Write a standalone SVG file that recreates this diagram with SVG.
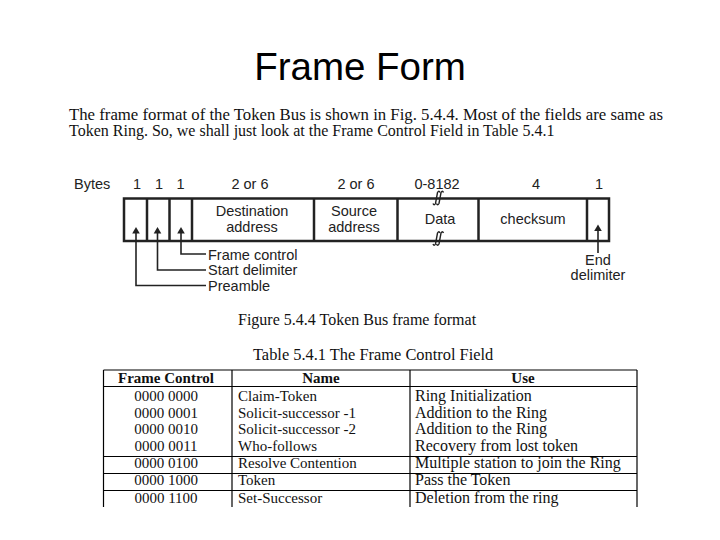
<svg xmlns="http://www.w3.org/2000/svg" width="720" height="540" viewBox="0 0 720 540">
<style>
.title{font-family:"Liberation Sans",Arial,sans-serif;font-size:38.5px;fill:#000}
.para{font-family:"Liberation Serif","Times New Roman",serif;font-size:16px;fill:#111}
.dg{font-family:"Liberation Sans",Arial,sans-serif;font-size:14.5px;fill:#222}
.mid{text-anchor:middle}
.box{fill:none;stroke:#222;stroke-width:2.5}
.div{stroke:#222;stroke-width:2.5}
.ln{fill:none;stroke:#222;stroke-width:1.6}
.ah{fill:#222}
.brk{fill:none;stroke:#222;stroke-width:1.4}
.cap{font-family:"Liberation Serif","Times New Roman",serif;font-size:16px;fill:#111}
.tb{font-family:"Liberation Serif","Times New Roman",serif;font-size:15px;fill:#111}
.tu{font-family:"Liberation Serif","Times New Roman",serif;font-size:16px;fill:#111}
.th{font-weight:bold}
.tl{stroke:#000;stroke-width:1.2}
</style>
<defs>
<g id="brkmark">
<path class="brk" d="M-4.5,5.5 Q-3.5,8 -2,5.5 L0,-5.5 Q1.5,-8 2.5,-5.5"/>
<path class="brk" d="M-1,5.5 Q0,8 1.5,5.5 L3.5,-5.5 Q5,-8 6,-5.5"/>
</g>
<path id="uparrow" class="ah" d="M0,0 L3.8,6.5 L-3.8,6.5 Z"/>
</defs>
<rect width="720" height="540" fill="#fff"/>

<g id="title"><text class="title mid" x="360" y="80">Frame Form</text></g>

<g id="intro">
<text class="para" x="69" y="120" textLength="594" lengthAdjust="spacingAndGlyphs">The frame format of the Token Bus is shown in Fig. 5.4.4. Most of the fields are same as</text>
<text class="para" x="69" y="136">Token Ring. So, we shall just look at the Frame Control Field in Table 5.4.1</text>
</g>

<g id="bytes-row">
<text class="dg" x="74" y="189">Bytes</text>
<text class="dg mid" x="137" y="189">1</text>
<text class="dg mid" x="159" y="189">1</text>
<text class="dg mid" x="180.5" y="189">1</text>
<text class="dg mid" x="250" y="189">2 or 6</text>
<text class="dg mid" x="356" y="189">2 or 6</text>
<text class="dg mid" x="437" y="189">0-8182</text>
<text class="dg mid" x="536" y="189">4</text>
<text class="dg mid" x="599" y="189">1</text>
</g>

<g id="frame">
<rect class="box" x="124" y="198.5" width="485" height="42.5"/>
<line class="div" x1="147" y1="198.5" x2="147" y2="241"/>
<line class="div" x1="169.5" y1="198.5" x2="169.5" y2="241"/>
<line class="div" x1="192" y1="198.5" x2="192" y2="241"/>
<line class="div" x1="314" y1="198.5" x2="314" y2="241"/>
<line class="div" x1="397.5" y1="198.5" x2="397.5" y2="241"/>
<line class="div" x1="478.5" y1="198.5" x2="478.5" y2="241"/>
<line class="div" x1="587" y1="198.5" x2="587" y2="241"/>
<text class="dg mid" x="252" y="216">Destination</text>
<text class="dg mid" x="252" y="232">address</text>
<text class="dg mid" x="354" y="216">Source</text>
<text class="dg mid" x="354" y="232">address</text>
<text class="dg mid" x="440" y="224">Data</text>
<text class="dg mid" x="533" y="224">checksum</text>
<use href="#brkmark" x="437.5" y="198"/>
<use href="#brkmark" x="437.5" y="238.5"/>
</g>

<g id="connectors">
<path class="ln" d="M181,232 V254 H206"/>
<use href="#uparrow" x="181" y="227"/>
<path class="ln" d="M157.5,232 V270 H206"/>
<use href="#uparrow" x="157.5" y="227"/>
<path class="ln" d="M136,232 V285.5 H206"/>
<use href="#uparrow" x="136" y="227"/>
<path class="ln" d="M598,230 V253"/>
<use href="#uparrow" x="598" y="224.5"/>
</g>

<g id="labels">
<text class="dg" x="208" y="260">Frame control</text>
<text class="dg" x="208" y="275">Start delimiter</text>
<text class="dg" x="208" y="291">Preamble</text>
<text class="dg mid" x="598" y="265">End</text>
<text class="dg mid" x="598" y="280">delimiter</text>
</g>

<g id="captions">
<text class="cap" x="238" y="325">Figure 5.4.4 Token Bus frame format</text>
<text class="cap" x="253" y="360" style="font-size:16.4px">Table 5.4.1 The Frame Control Field</text>
</g>

<g id="table">
<line class="tl" x1="103.5" y1="370" x2="637" y2="370"/>
<line class="tl" x1="103.5" y1="386.5" x2="637" y2="386.5"/>
<line class="tl" x1="103.5" y1="456.5" x2="637" y2="456.5"/>
<line class="tl" x1="103.5" y1="473.5" x2="637" y2="473.5"/>
<line class="tl" x1="103.5" y1="490.5" x2="637" y2="490.5"/>
<line class="tl" x1="103.5" y1="370" x2="103.5" y2="507"/>
<line class="tl" x1="232" y1="370" x2="232" y2="507"/>
<line class="tl" x1="410" y1="370" x2="410" y2="507"/>
<line class="tl" x1="637" y1="370" x2="637" y2="507"/>

<text class="tb th mid" x="166" y="383">Frame Control</text>
<text class="tb th mid" x="321" y="383">Name</text>
<text class="tb th mid" x="523" y="383">Use</text>

<text class="tb mid" x="166" y="401">0000 0000</text>
<text class="tb mid" x="166" y="418">0000 0001</text>
<text class="tb mid" x="166" y="434">0000 0010</text>
<text class="tb mid" x="166" y="451">0000 0011</text>
<text class="tb mid" x="166" y="468">0000 0100</text>
<text class="tb mid" x="166" y="485">0000 1000</text>
<text class="tb mid" x="166" y="503">0000 1100</text>

<text class="tb" x="238" y="401">Claim-Token</text>
<text class="tb" x="238" y="418">Solicit-successor -1</text>
<text class="tb" x="238" y="434">Solicit-successor -2</text>
<text class="tb" x="238" y="451">Who-follows</text>
<text class="tb" x="238" y="468">Resolve Contention</text>
<text class="tb" x="238" y="485">Token</text>
<text class="tb" x="238" y="503">Set-Successor</text>

<text class="tu" x="415" y="401">Ring Initialization</text>
<text class="tu" x="415" y="418">Addition to the Ring</text>
<text class="tu" x="415" y="434">Addition to the Ring</text>
<text class="tu" x="415" y="451">Recovery from lost token</text>
<text class="tu" x="415" y="468">Multiple station to join the Ring</text>
<text class="tu" x="415" y="485">Pass the Token</text>
<text class="tu" x="415" y="503">Deletion from the ring</text>
</g>
</svg>
